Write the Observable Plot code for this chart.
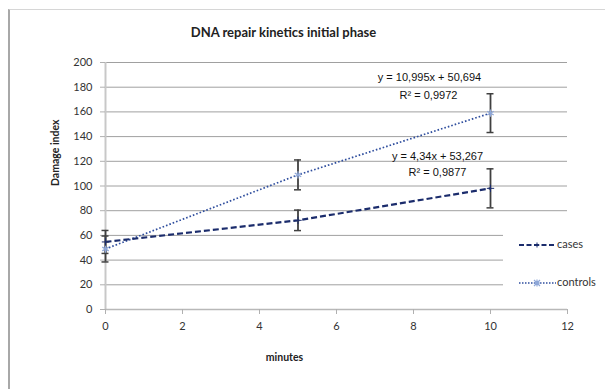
<!DOCTYPE html>
<html>
<head>
<meta charset="utf-8">
<script src="https://cdn.jsdelivr.net/npm/d3@7"></script>
<script src="https://cdn.jsdelivr.net/npm/@observablehq/plot@0.6"></script>
<style>
  body { margin: 0; background: #fff; }
  #wrap { position: relative; width: 605px; height: 389px; overflow: hidden; background: #fff;
          font-family: Lato, "Open Sans", sans-serif; color: #222; }
  #frame { position: absolute; left: 8px; top: 9px; width: 640px; height: 420px;
           border-left: 2px solid #a8a8a8; border-top: 1px solid #d6d6d6; pointer-events: none; }
  #title { position: relative; height: 50px; width: 567px; text-align: center;
           font-weight: bold; font-size: 13px; line-height: 14px; padding-top: 0; }
  #title span { position: absolute; left: 0; right: 0; top: 25px; }
  #chart { position: relative; }
  #legend { position: absolute; left: 503px; top: 222px; width: 97px; height: 78px; background: #fff; }
  .item { position: absolute; left: 16px; height: 12px; font-size: 11px; line-height: 12px; white-space: nowrap; }
  .item svg { position: absolute; left: 0; top: 1px; }
  .item span { position: absolute; left: 38px; top: -1px; color: #333; }
</style>
</head>
<body>
<div id="wrap">
  <div id="title"><span>DNA repair kinetics initial phase</span></div>
  <div id="chart"></div>
  <div id="legend">
    <div class="item" style="top:17px">
      <svg width="38" height="10"><line x1="0" y1="5" x2="37" y2="5" stroke="#1b2c6c" stroke-width="2" stroke-dasharray="5,2.5"/><path d="M18 2.5v5M15.5 5h5" stroke="#1b2c6c" stroke-width="1"/></svg>
      <span>cases</span>
    </div>
    <div class="item" style="top:55px">
      <svg width="38" height="10"><line x1="0" y1="5" x2="37" y2="5" stroke="#2f4e9e" stroke-width="1.5" stroke-dasharray="1.5,1.5"/><path d="M15 2l6 6M21 2l-6 6M18 1.5v7M14.5 5h7" stroke="#8ea7d8" stroke-width="1.2"/></svg>
      <span>controls</span>
    </div>
  </div>
  <div id="frame"></div>
</div>
<script>
// ---- data ----
const minutes = [0, 5, 10];
const cases = [54.7, 72.2, 98.1];
const casesErr = [9.3, 8.3, 15.8];
const controls = [49.0, 109.0, 159.0];
const controlsErr = [10.5, 12.1, 15.7];
const seriesNames = ["cases", "controls"];
const equations = ["y = 4,34x + 53,267", "y = 10,995x + 50,694"];
const rSquared = ["R² = 0,9877", "R² = 0,9972"];
const xTicks = [0, 2, 4, 6, 8, 10, 12];
const yTicks = [0, 20, 40, 60, 80, 100, 120, 140, 160, 180, 200];
const xLabel = "minutes";
const yLabel = "Damage index";

const rows = minutes.flatMap((m, i) => [
  {series: seriesNames[0], minutes: m, value: cases[i], err: casesErr[i]},
  {series: seriesNames[1], minutes: m, value: controls[i], err: controlsErr[i]}
]);
const casesRows = rows.filter(d => d.series === "cases");
const controlsRows = rows.filter(d => d.series === "controls");
const lastCases = [{...casesRows[casesRows.length - 1], eq: equations[0], r2: rSquared[0]}];
const lastControls = [{...controlsRows[controlsRows.length - 1], eq: equations[1], r2: rSquared[1]}];

const eqFont = "'Liberation Sans', Arial, sans-serif";

const plot = Plot.plot({
  width: 605,
  height: 339,
  marginTop: 12,
  marginRight: 38,
  marginBottom: 80,
  marginLeft: 105,
  style: {fontFamily: "Lato, 'Open Sans', sans-serif", fontSize: "11px", color: "#333", background: "transparent", overflow: "visible"},
  x: {domain: [0, 12]},
  y: {domain: [0, 200]},
  marks: [
    Plot.gridY(yTicks.filter(d => d > 0), {stroke: "#a0a0a0", strokeOpacity: 1, strokeWidth: 1}),
    Plot.ruleX([0], {stroke: "#c8c8c8", strokeWidth: 2}),
    Plot.ruleY([0], {stroke: "#b8b8b8", strokeWidth: 1.5}),
    Plot.axisX({ticks: xTicks, tickSize: 5, tickPadding: 8, stroke: "#b0b0b0", fill: "#333", label: null}),
    Plot.axisY({ticks: yTicks, tickSize: 5, tickPadding: 8, stroke: "#b0b0b0", fill: "#333", label: null}),
    Plot.text([yLabel], {frameAnchor: "left", rotate: -90, dx: -50, fontWeight: "bold", fontSize: 10.5, fill: "#222"}),
    Plot.text([xLabel], {frameAnchor: "bottom", dx: -52, dy: 48, lineAnchor: "middle", fontWeight: "bold", fontSize: 10.5, fill: "#222"}),
    // series lines
    Plot.line(controlsRows, {x: "minutes", y: "value", stroke: "#2f4e9e", strokeWidth: 1.7, strokeDasharray: "1.6,2", strokeLinecap: "butt"}),
    Plot.line(casesRows, {x: "minutes", y: "value", stroke: "#1b2c6c", strokeWidth: 2.2, strokeDasharray: "6,3", strokeLinecap: "butt"}),
    // error bars
    Plot.ruleX(rows, {x: "minutes", y1: d => d.value - d.err, y2: d => d.value + d.err, stroke: "#404040", strokeWidth: 1.8}),
    Plot.ruleY(rows, {x1: "minutes", x2: "minutes", y: d => d.value + d.err, insetLeft: -3.5, insetRight: -3.5, stroke: "#404040", strokeWidth: 1.5}),
    Plot.ruleY(rows, {x1: "minutes", x2: "minutes", y: d => d.value - d.err, insetLeft: -3.5, insetRight: -3.5, stroke: "#404040", strokeWidth: 1.5}),
    // markers
    Plot.dot(controlsRows, {x: "minutes", y: "value", symbol: "asterisk", r: 3.5, stroke: "#8ea7d8", strokeWidth: 1.3}),
    Plot.dot(casesRows, {x: "minutes", y: "value", symbol: "plus", r: 2.5, stroke: "#1b2c6c", strokeWidth: 1}),
    // trendline equations
    Plot.text(lastControls, {x: "minutes", y: "value", text: "eq", dx: -61, dy: -36, fontFamily: eqFont, fontSize: 11, fill: "#111"}),
    Plot.text(lastControls, {x: "minutes", y: "value", text: "r2", dx: -62, dy: -18, fontFamily: eqFont, fontSize: 11, fill: "#111"}),
    Plot.text(lastCases, {x: "minutes", y: "value", text: "eq", dx: -53, dy: -32, fontFamily: eqFont, fontSize: 11, fill: "#111"}),
    Plot.text(lastCases, {x: "minutes", y: "value", text: "r2", dx: -53, dy: -16, fontFamily: eqFont, fontSize: 11, fill: "#111"})
  ]
});
document.getElementById("chart").appendChild(plot);
</script>
</body>
</html>
